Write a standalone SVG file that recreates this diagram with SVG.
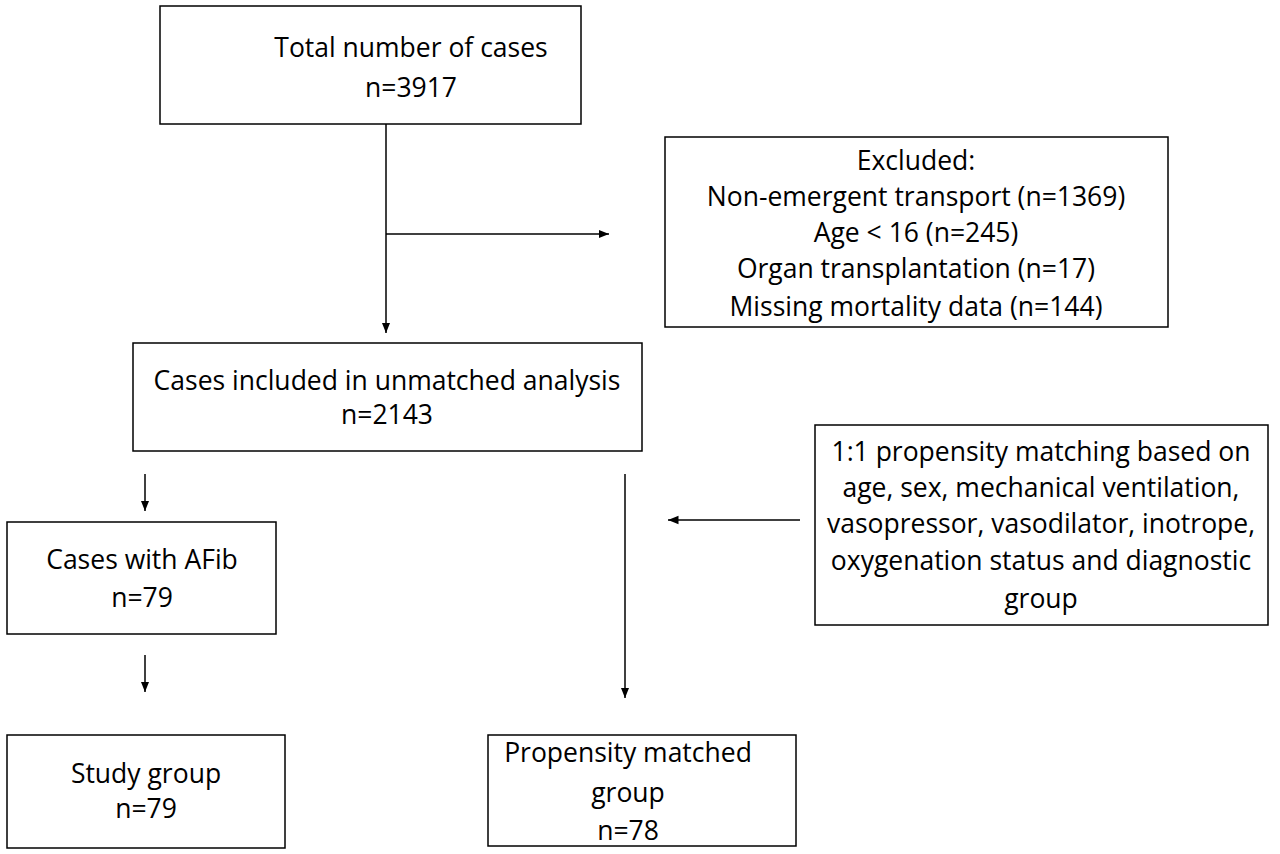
<svg xmlns="http://www.w3.org/2000/svg" width="1280" height="854" viewBox="0 0 1280 854">
<defs>
<style>
rect{fill:#fff;stroke:#000;stroke-width:1.5}
text{font-family:"Open Sans","Liberation Sans",sans-serif;font-size:26.5px;text-anchor:middle;dominant-baseline:central;fill:#000}
line{stroke:#000;stroke-width:1.5}
</style>
<marker id="a" viewBox="0 0 10 10" refX="10" refY="5" markerWidth="7" markerHeight="7" orient="auto"><path d="M0,1 L10,5 L0,9 z" fill="#000"/></marker>
</defs>
<rect width="1280" height="854" style="stroke:none"/>
<g id="connectors">
<line x1="386" y1="124" x2="386" y2="333" marker-end="url(#a)"/>
<line x1="386" y1="234" x2="609" y2="234" marker-end="url(#a)"/>
<line x1="145" y1="474" x2="145" y2="511" marker-end="url(#a)"/>
<line x1="145" y1="655" x2="145" y2="692" marker-end="url(#a)"/>
<line x1="625" y1="474" x2="625" y2="698" marker-end="url(#a)"/>
<line x1="800" y1="520" x2="668" y2="520" marker-end="url(#a)"/>
</g>
<g id="total"><rect x="160" y="6" width="421" height="118"/><text x="411" y="47">Total number of cases</text><text x="411" y="87">n=3917</text></g>
<g id="excluded"><rect x="665" y="137" width="503" height="190"/>
<text x="916" y="160">Excluded:</text><text x="916" y="196">Non-emergent transport (n=1369)</text><text x="916" y="232">Age &lt; 16 (n=245)</text><text x="916" y="268">Organ transplantation (n=17)</text><text x="916" y="306">Missing mortality data (n=144)</text></g>
<g id="included"><rect x="133" y="343" width="509" height="108"/><text x="387" y="380">Cases included in unmatched analysis</text><text x="387" y="414">n=2143</text></g>
<g id="matching"><rect x="815" y="425" width="453" height="200"/>
<text x="1041" y="451">1:1 propensity matching based on</text><text x="1041" y="487">age, sex, mechanical ventilation,</text><text x="1041" y="523">vasopressor, vasodilator, inotrope,</text><text x="1041" y="560">oxygenation status and diagnostic</text><text x="1041" y="598">group</text></g>
<g id="afib"><rect x="7" y="522" width="269" height="112"/><text x="142" y="559">Cases with AFib</text><text x="142" y="597">n=79</text></g>
<g id="study"><rect x="7" y="735" width="278" height="113"/><text x="146" y="773">Study group</text><text x="146" y="808">n=79</text></g>
<g id="matched"><rect x="488" y="735" width="308" height="111"/><text x="628" y="752">Propensity matched</text><text x="628" y="792">group</text><text x="628" y="830">n=78</text></g>
</svg>
